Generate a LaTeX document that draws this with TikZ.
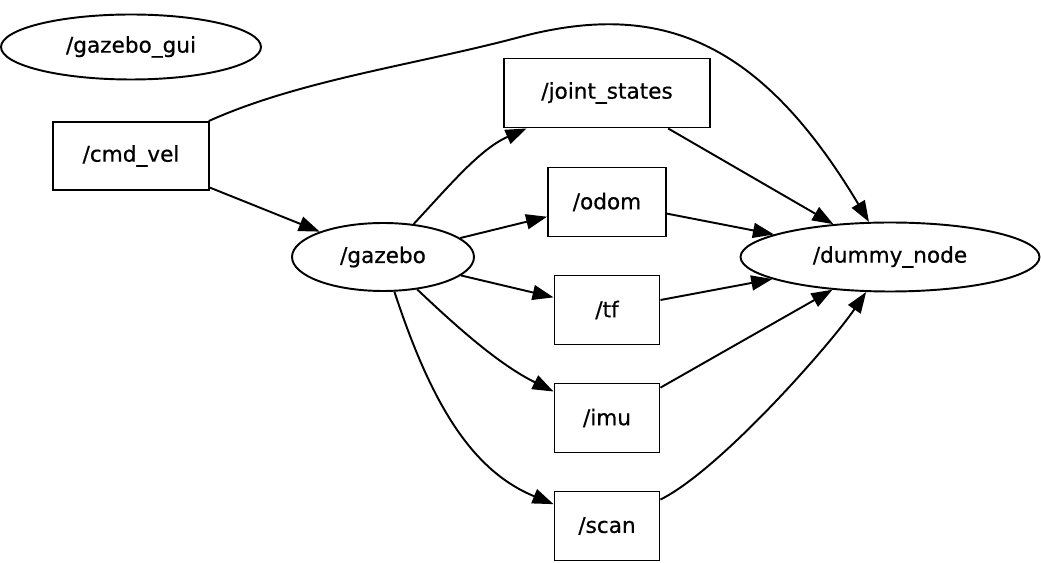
\documentclass[tikz,border=0pt]{standalone}
\usepackage{fontspec}
\setmainfont[FakeBold=0.6]{DejaVu Sans}
\usepackage{tikz}
\usetikzlibrary{arrows.meta,positioning,calc,shapes.geometric}
\tikzset{rosnode/.style={draw,ellipse,inner sep=0pt,align=center,line width=1.1pt},
         topic/.style={draw,rectangle,inner sep=0pt,align=center,line width=1.1pt}}

\begin{document}
\begin{tikzpicture}[x=0.02cm, y=-0.02cm, >={Triangle[length=0.42cm,width=0.3cm]}, line width=1.1pt,
  font=\fontsize{12.3}{14}\selectfont]
\useasboundingbox (0,0) rectangle (1041,563);
    \node[rosnode,minimum width=5.2cm,minimum height=1.3cm] (gazebo_gui) at (131,47) {/gazebo\_gui};
    \node[topic,minimum width=3.12cm,minimum height=1.36cm] (cmd_vel) at (131,156) {/cmd\_vel};
    \node[rosnode,minimum width=3.64cm,minimum height=1.36cm] (gazebo) at (383,257) {/gazebo};
    \node[topic,minimum width=4.12cm,minimum height=1.38cm] (joint_states) at (607,93) {/joint\_states};
    \node[topic,minimum width=2.36cm,minimum height=1.38cm] (odom) at (607,202) {/odom};
    \node[topic,minimum width=2.1cm,minimum height=1.38cm] (tf) at (607,310) {/tf};
    \node[topic,minimum width=2.1cm,minimum height=1.38cm] (imu) at (607,418) {/imu};
    \node[topic,minimum width=2.1cm,minimum height=1.38cm] (scan) at (607,526) {/scan};
    \node[rosnode,minimum width=5.98cm,minimum height=1.38cm] (dummy_node) at (890,257) {/dummy\_node};
    \coordinate (cmd_bend) at (520,37);
    % publishers
    \draw[->] (cmd_vel) .. controls (300,80) and (415,65) .. (cmd_bend)
                        .. controls (660,0) and (760,40) .. (dummy_node);
    \draw[->] (cmd_vel) -- (gazebo);
    \draw[->] (gazebo) .. controls (450,185) and (480,149) .. (joint_states);
    \draw[->] (gazebo) -- (odom);
    \draw[->] (gazebo) -- (tf);
    \draw[->] (gazebo) .. controls (460,330) and (500,365) .. (imu);
    \draw[->] (gazebo) .. controls (430,400) and (470,470) .. (scan);
    % subscribers
    \draw[->] (joint_states) -- (dummy_node);
    \draw[->] (odom) -- (dummy_node);
    \draw[->] (tf) -- (dummy_node);
    \draw[->] (imu) -- (dummy_node);
    \draw[->] (scan) .. controls (720,470) and (830,345) .. (dummy_node);
\end{tikzpicture}
\end{document}
